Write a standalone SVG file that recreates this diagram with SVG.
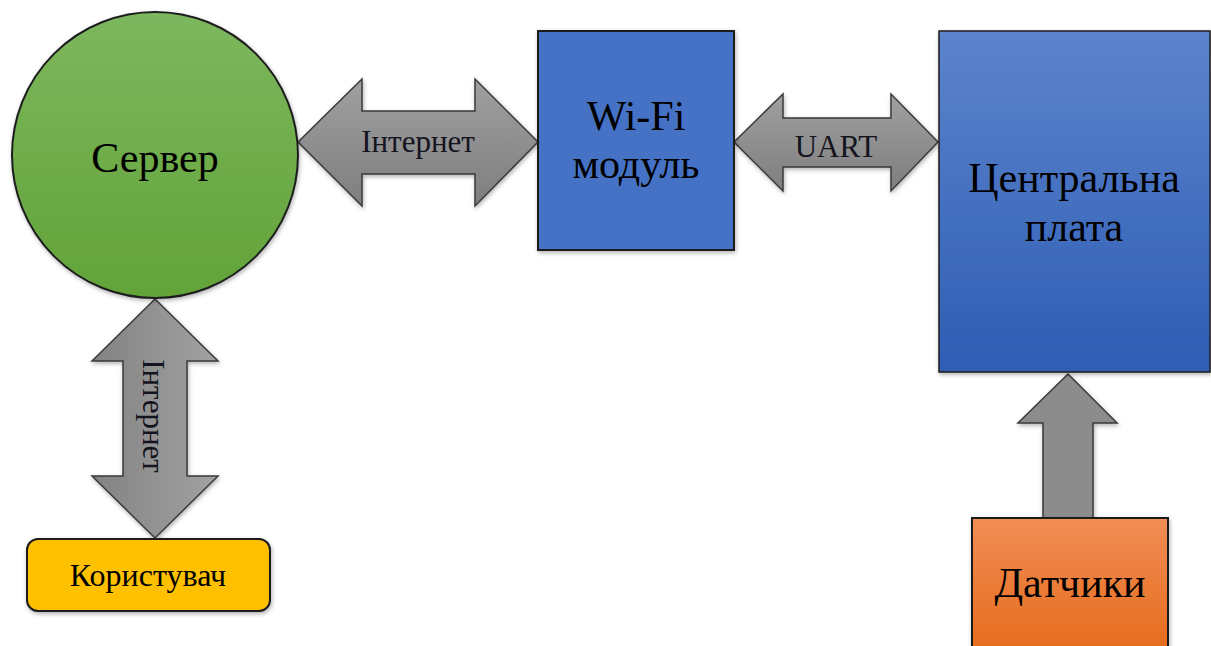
<svg xmlns="http://www.w3.org/2000/svg" width="1211" height="646" viewBox="0 0 1211 646">
  <defs>
    <linearGradient id="gGreen" x1="0" y1="0" x2="0" y2="1">
      <stop offset="0" stop-color="#7db75e"/>
      <stop offset="1" stop-color="#62a338"/>
    </linearGradient>
    <linearGradient id="gBlue" x1="0" y1="0" x2="0" y2="1">
      <stop offset="0" stop-color="#5c84cc"/>
      <stop offset="1" stop-color="#2e5db4"/>
    </linearGradient>
    <linearGradient id="gOrange" x1="0" y1="0" x2="0" y2="1">
      <stop offset="0" stop-color="#f18d55"/>
      <stop offset="1" stop-color="#e56a1a"/>
    </linearGradient>
    <linearGradient id="gGrayH" x1="0" y1="0" x2="0" y2="1">
      <stop offset="0" stop-color="#a0a0a0"/>
      <stop offset="1" stop-color="#7e7e7e"/>
    </linearGradient>
    <linearGradient id="gGrayV" x1="0" y1="0" x2="1" y2="0">
      <stop offset="0" stop-color="#828282"/>
      <stop offset="1" stop-color="#a2a2a2"/>
    </linearGradient>
    <filter id="shadow" x="-10%" y="-10%" width="120%" height="120%">
      <feDropShadow dx="1" dy="2" stdDeviation="2" flood-color="#000" flood-opacity="0.3"/>
    </filter>
  </defs>
  <style>
    .arrow { stroke: #3a3a3a; stroke-width: 1.5; stroke-linejoin: miter; filter: url(#shadow); }
    .node { stroke: #1e1e1e; stroke-width: 2; filter: url(#shadow); }
    .big { font-family: "Liberation Serif", "Times New Roman", serif; font-size: 42px; fill: #000; text-anchor: middle; }
    .lbl { font-family: "Liberation Serif", "Times New Roman", serif; font-size: 31px; fill: #141420; text-anchor: middle; }
    .user-lbl { font-size: 32px; fill: #000; }
  </style>

  <rect width="1211" height="646" fill="#ffffff"/>

  <!-- block arrows between nodes -->
  <g id="connectors">
    <g id="arrow-server-wifi">
      <path class="arrow" fill="url(#gGrayH)" d="M298,142 L362,79 L362,111 L475,111 L475,79 L538,142 L475,206 L475,174 L362,174 L362,206 Z"/>
      <text class="lbl" x="418" y="152">Інтернет</text>
    </g>
    <g id="arrow-wifi-board">
      <path class="arrow" fill="url(#gGrayH)" d="M734,142 L783,94 L783,118 L891,118 L891,94 L938,142 L891,191 L891,167 L783,167 L783,191 Z"/>
      <text class="lbl" x="836" y="157">UART</text>
    </g>
    <g id="arrow-server-user">
      <path class="arrow" fill="url(#gGrayV)" d="M155,299 L218,361 L187,361 L187,476 L218,476 L155,538 L92,476 L123,476 L123,361 L92,361 Z"/>
      <text class="lbl" transform="translate(143,416) rotate(90)" x="0" y="0">Інтернет</text>
    </g>
    <g id="arrow-sensors-board">
      <path class="arrow" fill="#8c8c8c" d="M1068,374 L1117,423 L1093,423 L1093,518 L1043,518 L1043,423 L1018,423 Z"/>
    </g>
  </g>

  <g id="server">
    <circle class="node" cx="155" cy="155" r="143" fill="url(#gGreen)"/>
    <text class="big" x="155" y="172">Сервер</text>
  </g>

  <g id="wifi-module">
    <rect class="node" x="538" y="31" width="196" height="219" fill="#4472c4"/>
    <text class="big" x="636" y="130">Wi-Fi</text>
    <text class="big" x="636" y="178">модуль</text>
  </g>

  <g id="central-board">
    <rect class="node" x="939" y="31" width="271" height="341" fill="url(#gBlue)" style="stroke-width:1.5"/>
    <text class="big" x="1074" y="192">Центральна</text>
    <text class="big" x="1074" y="241">плата</text>
  </g>

  <g id="sensors">
    <rect class="node" x="972" y="518" width="196" height="140" fill="url(#gOrange)"/>
    <text class="big" x="1070" y="597">Датчики</text>
  </g>

  <g id="user">
    <rect class="node" x="27" y="539" width="243" height="72" rx="11" ry="11" fill="#ffc000"/>
    <text class="lbl user-lbl" x="148" y="586">Користувач</text>
  </g>
</svg>
